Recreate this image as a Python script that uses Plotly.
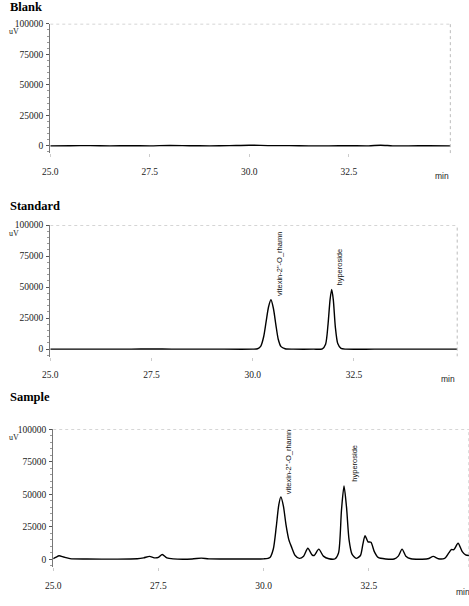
import plotly.graph_objects as go

# ---------------- data ----------------
blank_t = [25.0, 25.5, 26.0, 26.5, 27.0, 27.5, 28.0, 28.5, 29.0, 29.5, 30.0, 30.5,
           31.0, 31.5, 32.0, 32.5, 33.0, 33.3, 33.6, 34.0, 34.5, 35.05]
blank_v = [0, 100, 200, 0, 100, 0, 300, 100, 0, 200, 500, 200,
           200, 0, 0, 100, 0, 500, 0, 0, 100, 0]

std_t = [25.0, 26.0, 27.0, 27.5, 28.0, 29.0, 30.0, 30.12, 30.2, 30.27, 30.33, 30.39,
         30.45, 30.51, 30.57, 30.63, 30.7, 30.8, 31.0, 31.5, 31.72, 31.8, 31.86, 31.91,
         31.95, 31.99, 32.04, 32.1, 32.18, 32.3, 33.0, 34.0, 35.05]
std_v = [0, 0, 0, 200, 0, 0, 0, 300, 2500, 10000, 22000, 34000,
         39800, 33000, 20000, 8000, 2000, 300, 0, 0, 300, 4000, 20000, 40000,
         48200, 40000, 18000, 4500, 600, 0, 0, 0, 0]

smp_t = [25.0, 25.07, 25.14, 25.25, 25.4, 25.8, 26.5, 27.0, 27.15, 27.29, 27.4, 27.5,
         27.59, 27.7, 27.85, 28.3, 28.52, 28.7, 29.5, 30.0, 30.15, 30.23, 30.3, 30.36,
         30.41, 30.47, 30.53, 30.6, 30.67, 30.75, 30.85, 30.95, 31.05, 31.15, 31.2, 31.31,
         31.42, 31.55, 31.7, 31.78, 31.85, 31.91, 31.97, 32.03, 32.1, 32.2, 32.3, 32.36,
         32.41, 32.48, 32.55, 32.63, 32.72, 32.9, 33.1, 33.2, 33.29, 33.38, 33.5, 33.9,
         34.03, 34.15, 34.3, 34.4, 34.46, 34.52, 34.62, 34.72, 34.8, 34.88]
smp_v = [500, 1800, 2800, 1800, 600, 300, 200, 500, 1200, 2300, 1200, 1500,
         3800, 1200, 400, 300, 1000, 400, 300, 400, 1500, 8000, 25000, 42000,
         48100, 41000, 27000, 15000, 9000, 3000, 800, 2500, 8600, 3500, 3000, 7900,
         2500, 500, 500, 5000, 38000, 56500, 40000, 15000, 4000, 800, 3000, 12000,
         18300, 13500, 13200, 6000, 1500, 300, 300, 2500, 7900, 2500, 500, 500,
         2300, 500, 800, 5000, 7600, 7500, 12400, 6000, 3500, 3000]

panel_titles = ["Blank", "Standard", "Sample"]
y_ticks = [0, 25000, 50000, 75000, 100000]
y_ticktext = ["0", "25000", "50000", "75000", "100000"]
x_ticks = [25.0, 27.5, 30.0, 32.5]
x_ticktext = ["25.0", "27.5", "30.0", "32.5"]
peak_names = ['vitexin-2"-O_rhamn', "hyperoside"]
std_label_pos = [(30.66, 41600), (32.14, 49600)]
smp_label_pos = [(30.61, 48900), (32.15, 58000)]

W, H = 469, 606
SERIF = "Liberation Serif, Times New Roman, serif"


def px(v):
    return v / W


def py(v):
    return 1 - v / H


fig = go.Figure()
line = dict(color="black", width=1.4, shape="spline", smoothing=0.7)
fig.add_trace(go.Scatter(x=blank_t, y=blank_v, mode="lines", line=line, xaxis="x", yaxis="y"))
fig.add_trace(go.Scatter(x=std_t, y=std_v, mode="lines", line=line, xaxis="x2", yaxis="y2"))
fig.add_trace(go.Scatter(x=smp_t, y=smp_v, mode="lines", line=line, xaxis="x3", yaxis="y3"))

# panel geometry (pixels)
panels = [
    dict(x0=43, x1=450, ytop=19, yzero=142, xr=[25, 35.05]),
    dict(x0=43, x1=457, ytop=222, yzero=347, xr=[25, 35.05]),
    dict(x0=46, x1=469, ytop=428, yzero=559, xr=[25, 34.88]),
]
ymin = -6000
layout = dict(width=W, height=H, margin=dict(l=0, r=0, t=0, b=0),
              plot_bgcolor="white", paper_bgcolor="white", showlegend=False)
annotations = []
shapes = []
for i, p in enumerate(panels):
    sfx = "" if i == 0 else str(i + 1)
    scale = (p["yzero"] - p["ytop"]) / 100000
    ybot = p["yzero"] + (-ymin) * scale
    layout["xaxis" + sfx] = dict(
        domain=[px(p["x0"]), px(p["x1"])], range=p["xr"], anchor="y" + sfx,
        tickvals=x_ticks, ticktext=x_ticktext, showgrid=False, zeroline=False,
        showline=False, ticks="outside", ticklen=3, tickcolor="#cccccc",
        ticklabelstandoff=6, tickfont=dict(family=SERIF, size=9.5, color="#222"))
    layout["yaxis" + sfx] = dict(
        domain=[py(ybot), py(p["ytop"])], range=[ymin, 100000], anchor="x" + sfx,
        tickvals=y_ticks, ticktext=y_ticktext, showgrid=False, zeroline=False,
        showline=True, linecolor="#777", linewidth=1, ticks="outside", ticklen=3,
        tickcolor="#555", ticklabelstandoff=1,
        minor=dict(dtick=5000, ticks="outside", ticklen=2, tickcolor="#999"),
        tickfont=dict(family=SERIF, size=9.5, color="#222"))
    # dotted top and right borders
    shapes.append(dict(type="line", xref="x" + sfx, yref="y" + sfx, x0=p["xr"][0], x1=p["xr"][1],
                       y0=100000, y1=100000, line=dict(color="#aaa", width=1, dash="dot")))
    shapes.append(dict(type="line", xref="x" + sfx + " domain", yref="y" + sfx, x0=1, x1=1,
                       y0=ymin, y1=100000, line=dict(color="#bbb", width=1, dash="dot")))
    # panel title
    tcy = [2, 203, 395][i]
    annotations.append(dict(text="<b>%s</b>" % panel_titles[i], xref="paper", yref="paper",
                            x=0, y=py(tcy), xanchor="left", yanchor="middle", showarrow=False,
                            font=dict(family=SERIF, size=12.5, color="black")))
    # uV label
    annotations.append(dict(text="uV", xref="paper", yref="paper", x=0, y=py(p["ytop"] + 8),
                            xanchor="left", yanchor="middle", showarrow=False, borderpad=0,
                            font=dict(family=SERIF, size=8, color="#222")))
    # min label
    mx, my = [(442, 172), (448, 377), (463, 592)][i]
    annotations.append(dict(text="min", xref="paper", yref="paper", x=px(mx), y=py(my),
                            xanchor="center", yanchor="middle", showarrow=False,
                            font=dict(family="Liberation Sans, Arial, sans-serif", size=8.5, color="#222")))

for sfx, pos in (("2", std_label_pos), ("3", smp_label_pos)):
    for name, (tx, ty) in zip(peak_names, pos):
        annotations.append(dict(text=name, xref="x" + sfx, yref="y" + sfx, x=tx, y=ty,
                                xanchor="center", yanchor="bottom", textangle=-90,
                                showarrow=False,
                                font=dict(family="Liberation Sans Narrow, Liberation Sans, Arial, sans-serif",
                                          size=7.5, color="#111")))

layout["annotations"] = annotations
layout["shapes"] = shapes
fig.update_layout(**layout)
fig.write_html("out.html")
